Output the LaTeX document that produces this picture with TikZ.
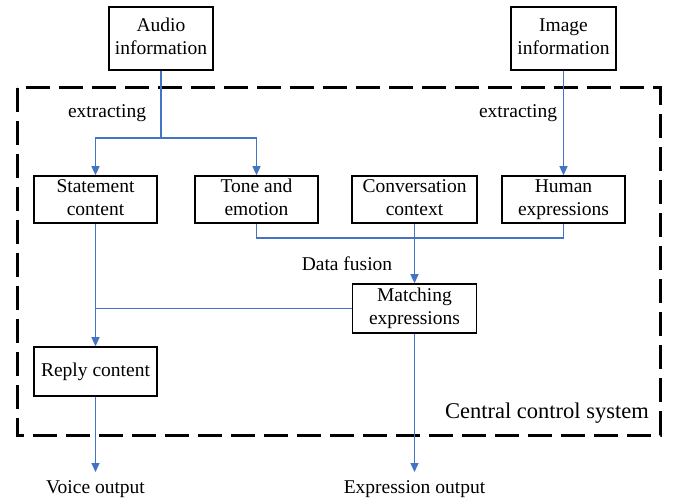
\documentclass[tikz,border=0pt]{standalone}
\usepackage{fontspec}
\setmainfont{Liberation Serif}
\usetikzlibrary{arrows.meta}
\definecolor{flow}{HTML}{4472C4}
% two struted lines, so every box centres its text alike
\newcommand\twoline[2]{\strut#1\\\strut#2}
\tikzset{
  box/.style={draw=black, line width=1.6pt, align=center, inner sep=0pt,
    font=\fontsize{19.5}{23}\selectfont},
  lbl/.style={inner sep=0pt, font=\fontsize{19.5}{23}\selectfont},
  link/.style={draw=flow, line width=1.3pt},
  arr/.style={link, -{Triangle[width=8pt,length=9pt]}},
  frame/.style={draw=black, line width=3pt, dash pattern=on 24pt off 9pt}
}
\begin{document}
\begin{tikzpicture}[x=1pt,y=-1pt]
\useasboundingbox (0,0) rectangle (675,503);

% central control system frame
\draw[frame] (17,88) rectangle (660,435);
\node[lbl, anchor=east, font=\fontsize{22.5}{26}\selectfont] (ccs) at (649,413) {Central control system};

% inputs
\node[box, minimum width=104pt, minimum height=63pt] (audio) at (161,38.5) {\twoline{Audio}{information}};
\node[box, minimum width=105pt, minimum height=63pt] (image) at (563.5,38.5) {\twoline{Image}{information}};

% features
\node[box, minimum width=123pt, minimum height=47pt] (stmt) at (95.5,199.5) {\twoline{Statement}{content}};
\node[box, minimum width=123pt, minimum height=47pt] (tone) at (256.5,199.5) {\twoline{Tone and}{emotion}};
\node[box, minimum width=125pt, minimum height=47pt] (conv) at (414.5,199.5) {\twoline{Conversation}{context}};
\node[box, minimum width=123pt, minimum height=47pt] (human) at (563.5,199.5) {\twoline{Human}{expressions}};

% results
\node[box, minimum width=124pt, minimum height=49pt] (match) at (414.5,308.5) {\twoline{Matching}{expressions}};
\node[box, minimum width=123pt, minimum height=49pt] (reply) at (95.5,371.5) {\strut Reply content};

% labels
\node[lbl] (ext1) at (107,113) {extracting};
\node[lbl] (ext2) at (518,113) {extracting};
\node[lbl] (fuse) at (347,264) {Data fusion};
\node[lbl] (voice) at (95.5,489) {Voice output};
\node[lbl] (expr) at (414.5,489) {Expression output};

% junction points and free ends
\coordinate (split) at (161,138);
\coordinate (merge) at (414.5,238);
\coordinate (vout) at (95.5,472);
\coordinate (eout) at (414.5,472);

% audio extraction
\draw[link] (audio.south) -- (split);
\draw[arr] (split) -| (stmt.north);
\draw[arr] (split) -| (tone.north);
% image extraction
\draw[arr] (image.south) -- (human.north);
% data fusion
\draw[link] (tone.south) |- (merge) -| (human.south);
\draw[arr] (conv.south) -- (match.north);
% reply
\draw[arr] (stmt.south) -- (reply.north);
\draw[link] (match.west) -- (stmt.south |- match.west);
% outputs
\draw[arr] (reply.south) -- (vout);
\draw[arr] (match.south) -- (eout);
\end{tikzpicture}
\end{document}
